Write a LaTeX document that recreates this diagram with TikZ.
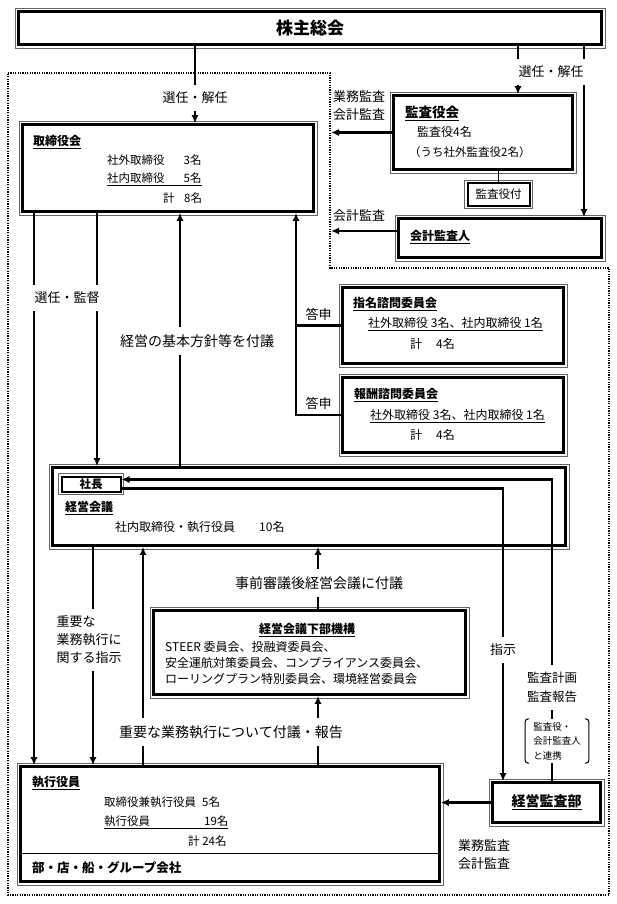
\documentclass[tikz,border=0pt]{standalone}
\usepackage{fontspec}
\setmainfont{Noto Sans CJK JP}
\usepackage{tikz}
\usetikzlibrary{arrows.meta}

\tikzset{
  box/.style={draw, line width=2.6pt, inner sep=0pt},
  conn/.style={line width=2.3pt},
  lbl/.style={font=\fontsize{13}{18}\selectfont, inner xsep=1pt, inner ysep=7pt, align=center},
  biglbl/.style={lbl, font=\fontsize{14}{18}\selectfont},
  txt/.style={font=\fontsize{11.5}{14}\selectfont, inner sep=0pt, anchor=west},
  ttl/.style={txt, font=\fontsize{12}{14}\selectfont\bfseries},
}

\begin{document}
\begin{tikzpicture}[x=1pt, y=-1pt, >={Latex[length=8pt,width=7pt]}]
	\useasboundingbox (0,0) rectangle (617,904);

	% dotted area
	\draw[line width=1.4pt, dash pattern=on 1.2pt off 1.2pt] (8,73) -- (330,73) -- (330,268) -- (609,268) -- (609,895) -- (8,895) -- cycle;

	% columns of the connectors
	\coordinate (c1) at (34,0);
	\coordinate (c2) at (97,0);
	\coordinate (c3) at (180,0);
	\coordinate (c4) at (296,0);
	\coordinate (c5) at (93,0);
	\coordinate (c6) at (143,0);
	\coordinate (c7) at (318,0);
	\coordinate (c8) at (552,0);
	\coordinate (c9) at (518,0);
	\coordinate (c10) at (584,0);
	\coordinate (c11) at (503,0);
	\coordinate (dotR) at (331,0);
	\coordinate (div) at (0,853);

	% boxes
	\node[box, minimum width=583, minimum height=33, font=\fontsize{17}{20}\selectfont\bfseries] (kabu) at (310,28) {株主総会};
	\node[box, minimum width=291, minimum height=87] (tori) at (168,168) {};
	\node[box, minimum width=179, minimum height=74] (kansa) at (483,132.5) {};
	\node[box, line width=2pt, minimum width=62, minimum height=22, font=\fontsize{11.5}{14}\selectfont] (kansafu) at (498.5,194.5) {監査役付};
	\node[box, minimum width=203, minimum height=39] (kaikei) at (500,238) {};
	\node[box, minimum width=221, minimum height=76] (shimei) at (453,325.5) {};
	\node[box, minimum width=221, minimum height=75] (hoshu) at (453,415) {};
	\node[box, minimum width=513, minimum height=78] (keiei) at (309,506.5) {};
	\node[box, line width=2pt, minimum width=59, minimum height=15, font=\fontsize{11.5}{14}\selectfont\bfseries] (shacho) at (91,484) {社長};
	\node[box, minimum width=312, minimum height=84] (kikou) at (309.5,652.5) {};
	\node[box, minimum width=419, minimum height=115] (shikko) at (230,824) {};
	\node[box, minimum width=108, minimum height=40, font=\fontsize{14}{17}\selectfont\bfseries] (kansabu) at (546.5,802.5) {\underline{経営監査部}};
	\foreach \b in {kabu, tori, kansa, kansafu, kaikei, shimei, hoshu, keiei, shacho, kikou, shikko, kansabu}{
		\draw[black!60, line width=0.5pt] ([shift={(-2pt,2pt)}]\b.north west) rectangle ([shift={(2pt,-2pt)}]\b.south east);
	}
	\draw[line width=0.8pt] (shikko.west |- div) -- (shikko.east |- div);

	% texts in the boxes
	\node[ttl] (toriT) at (33,142) {\underline{取締役会}};
	\node[txt] (toriA) at (107,160) {社外取締役\hspace{19pt}3名};
	\node[txt] (toriB) at (107,179) {\underline{社内取締役\hspace{19pt}5名}};
	\node[txt] (toriC) at (163,198) {計\hspace{9.5pt}8名};

	\node[ttl, font=\fontsize{13.5}{16}\selectfont\bfseries] (kansaT) at (405,113) {\underline{監査役会}};
	\node[txt, font=\fontsize{12}{14}\selectfont] (kansaA) at (417,132) {監査役4名};
	\node[txt] (kansaB) at (409,152) {（うち社外監査役2名）};
	\node[ttl] (kaikeiT) at (410,237) {\underline{会計監査人}};

	\node[ttl] (shimeiT) at (353,304) {\underline{指名諮問委員会}};
	\node[txt, font=\fontsize{12}{14}\selectfont] (shimeiA) at (368,324) {\underline{社外取締役 3名、社内取締役 1名}};
	\node[txt, font=\fontsize{12}{14}\selectfont] (shimeiB) at (410,344) {計\hspace{14pt}4名};
	\node[ttl] (hoshuT) at (354,395) {\underline{報酬諮問委員会}};
	\node[txt, font=\fontsize{12}{14}\selectfont] (hoshuA) at (370,416) {\underline{社外取締役 3名、社内取締役 1名}};
	\node[txt, font=\fontsize{12}{14}\selectfont] (hoshuB) at (410,435) {計\hspace{14pt}4名};

	\node[ttl] (keieiT) at (65,508) {\underline{経営会議}};
	\node[txt, font=\fontsize{12}{14}\selectfont] (keieiA) at (115,527) {社内取締役・執行役員\hspace{24pt}10名};

	\node[ttl, anchor=center] (kikouT) at (307,630) {\underline{経営会議下部機構}};
	\node[txt, font=\fontsize{12}{16}\selectfont, align=left] (kikouA) at (165,663) {STEER 委員会、投融資委員会、\\安全運航対策委員会、コンプライアンス委員会、\\ローリングプラン特別委員会、環境経営委員会};

	\node[ttl] (shikkoT) at (32,783) {\underline{執行役員}};
	\node[txt] (shikkoA) at (104,802) {取締役兼執行役員\hspace{6pt}5名};
	\node[txt] (shikkoB) at (104,822) {\underline{執行役員\hspace{54pt}19名}};
	\node[txt] (shikkoC) at (188,841) {計 24名};
	\node[ttl, font=\fontsize{12.5}{15}\selectfont\bfseries] (bu) at (32,868) {部・店・船・グループ会社};

	% labels
	\node[lbl] (sel1) at (195,98) {選任・解任};
	\node[lbl] (sel2) at (551,72) {選任・解任};
	\node[lbl, inner ysep=2pt] (audit1) at (359,106) {業務監査\\会計監査};
	\node[lbl, inner ysep=2pt] (audit2) at (359,216) {会計監査};
	\node[lbl] (senkan) at (67,298) {選任・監督};
	\node[biglbl] (fugi1) at (197,341) {経営の基本方針等を付議};
	\node[lbl, align=left] (shiji1) at (89,640) {重要な\\業務執行に\\関する指示};
	\node[biglbl] (fugi2) at (231,732) {重要な業務執行について付議・報告};
	\node[biglbl] (jizen) at (319,583) {事前審議後経営会議に付議};
	\node[lbl] (shiji2) at (503,650) {指示};
	\node[lbl, font=\fontsize{12.5}{19}\selectfont] (kplan) at (552,687) {監査計画\\監査報告};
	\node[font=\fontsize{9.5}{14.5}\selectfont, align=left, inner xsep=8pt, inner ysep=3pt] (renkei) at (557,741) {監査役・\\会計監査人\\と連携};
	\node[lbl, align=left, anchor=west, inner ysep=2pt] (audit3) at (457,855) {業務監査\\会計監査};
	% brackets
	\draw[line width=1pt, rounded corners=3pt] ([xshift=4pt]renkei.north west) -- (renkei.north west) -- (renkei.south west) -- ([xshift=4pt]renkei.south west);
	\draw[line width=1pt, rounded corners=3pt] ([xshift=-4pt]renkei.north east) -- (renkei.north east) -- (renkei.south east) -- ([xshift=-4pt]renkei.south east);

	% 株主総会
	\draw[conn] (kabu.south -| sel1) -- (sel1.north);
	\draw[conn, ->] (sel1.south) -- (sel1.south |- tori.north);
	\draw[conn] (kabu.south -| c9) -- (sel2.north -| c9);
	\draw[conn, ->] (sel2.south -| c9) -- (kansa.north -| c9);
	\draw[conn] (kabu.south -| c10) -- (sel2.north -| c10);
	\draw[conn, ->] (sel2.south -| c10) -- (kaikei.north -| c10);
	% audit
	\draw[conn, ->] (kansa.west) -- (kansa.west -| dotR);
	\draw[conn, ->] ([yshift=7pt]kaikei.west) -- ([yshift=7pt]kaikei.west -| dotR);
	\draw[line width=1.5pt] (kansafu.north) -- (kansafu.north |- kansa.south);
	% board
	\draw[conn] (tori.south -| c1) -- (senkan.north -| c1);
	\draw[conn, ->] (senkan.south -| c1) -- (shikko.north -| c1);
	\draw[conn] (tori.south -| c2) -- (senkan.north -| c2);
	\draw[conn, ->] (senkan.south -| c2) -- (keiei.north -| c2);
	\draw[conn] (keiei.north -| c3) -- (fugi1.south -| c3);
	\draw[conn, ->] (fugi1.north -| c3) -- (tori.south -| c3);
	\draw[conn] (shimei.west) -- node[lbl, above, inner ysep=4pt] (ans1) {答申} (shimei.west -| c4);
	\draw[conn, ->] (hoshu.west) -- node[lbl, above, inner ysep=4pt] (ans2) {答申} (hoshu.west -| c4) -- (tori.south -| c4);
	% management
	\draw[conn] (keiei.south -| c5) -- (shiji1.north -| c5);
	\draw[conn, ->] (shiji1.south -| c5) -- (shikko.north -| c5);
	\draw[conn] (shikko.north -| c6) -- (fugi2.south -| c6);
	\draw[conn, ->] (fugi2.north -| c6) -- (keiei.south -| c6);
	\draw[conn] (shikko.north -| c7) -- (fugi2.south -| c7);
	\draw[conn, ->] (fugi2.north -| c7) -- (kikou.south -| c7);
	\draw[conn] (kikou.north -| c7) -- (jizen.south -| c7);
	\draw[conn, ->] (jizen.north -| c7) -- (keiei.south -| c7);
	% internal audit
	\draw[conn] ([yshift=-4.5pt]shacho.east) -- ([yshift=-4.5pt]shacho.east -| c11) -- (shiji2.north -| c11);
	\draw[conn, ->] (shiji2.south -| c11) -- (kansabu.north -| c11);
	\draw[conn] (kansabu.north -| c8) -- (renkei.south -| c8);
	\draw[conn] (renkei.north -| c8) -- (kplan.south -| c8);
	\draw[conn, ->] (kplan.north -| c8) -- ([yshift=4.5pt]shacho.east -| c8) -- ([yshift=4.5pt]shacho.east);
	\draw[conn, ->] (kansabu.west) -- (kansabu.west -| shikko.east);
\end{tikzpicture}
\end{document}
